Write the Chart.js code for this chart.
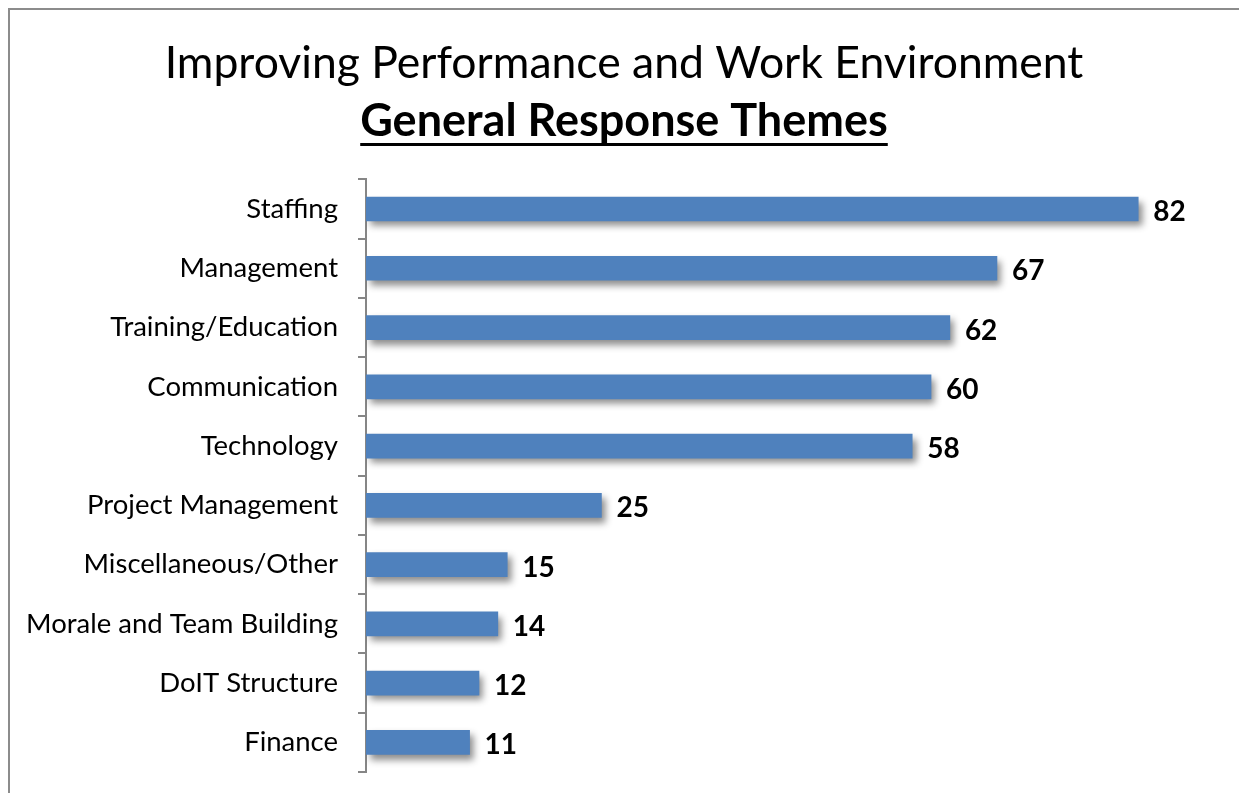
<!DOCTYPE html>
<html>
<head>
<meta charset="utf-8">
<title>General Response Themes</title>
<script src="https://cdn.jsdelivr.net/npm/chart.js@4.4.1/dist/chart.umd.min.js"></script>
<style>
    html, body { margin: 0; padding: 0; background: #fff; overflow: hidden; }
    #wrap { position: relative; width: 1239px; height: 793px; }
    #frame { position: absolute; left: 8px; top: 8px; width: 1300px; height: 900px; border: 2px solid #8c8c8c; box-sizing: border-box; }
    #chart { position: absolute; left: 0; top: 0; }
</style>
</head>
<body>
<div id="wrap">
    <div id="frame"></div>
    <canvas id="chart" width="1239" height="793"></canvas>
</div>
<script>
const titleText = 'Improving Performance and Work Environment';
const subtitleText = 'General Response Themes';
const themes = [
    'Staffing',
    'Management',
    'Training/Education',
    'Communication',
    'Technology',
    'Project Management',
    'Miscellaneous/Other',
    'Morale and Team Building',
    'DoIT Structure',
    'Finance'
];
const responses = [82, 67, 62, 60, 58, 25, 15, 14, 12, 11];

const FONT = 'Lato, "Open Sans", sans-serif';
const SUB_SIZE = 45;
const barBlue = '#4f81bd';
const axisGray = '#868686';

// soft drop shadow under the bars
const barShadow = {
    id: 'barShadow',
    beforeDatasetsDraw(chart) {
        const ctx = chart.ctx;
        ctx.save();
        ctx.shadowColor = 'rgba(0, 0, 0, 0.45)';
        ctx.shadowBlur = 7;
        ctx.shadowOffsetX = 4;
        ctx.shadowOffsetY = 5;
    },
    afterDatasetsDraw(chart) {
        chart.ctx.restore();
    }
};

// bold value next to the end of each bar
const valueLabels = {
    id: 'valueLabels',
    afterDatasetsDraw(chart) {
        const ctx = chart.ctx;
        const meta = chart.getDatasetMeta(0);
        ctx.save();
        ctx.fillStyle = '#000';
        ctx.font = 'bold 28px ' + FONT;
        ctx.textAlign = 'left';
        ctx.textBaseline = 'middle';
        meta.data.forEach((bar, i) => {
            ctx.fillText(String(chart.data.datasets[0].data[i]), bar.x + 15, bar.y + 3);
        });
        ctx.restore();
    }
};

// underline for the second title line
const subtitleUnderline = {
    id: 'subtitleUnderline',
    afterDraw(chart) {
        const sub = chart.boxes.find(b => b.options && b.options.text === subtitleText);
        if (!sub) return;
        const ctx = chart.ctx;
        ctx.save();
        ctx.font = 'bold ' + SUB_SIZE + 'px ' + FONT;
        const w = ctx.measureText(subtitleText).width;
        const mid = sub.left + sub.width / 2;
        const textMid = sub.top + (sub.options.padding.top || 0) + SUB_SIZE * 0.6;
        const y = textMid + 23;
        ctx.strokeStyle = '#000';
        ctx.lineWidth = 3;
        ctx.beginPath();
        ctx.moveTo(mid - w / 2, y);
        ctx.lineTo(mid + w / 2, y);
        ctx.stroke();
        ctx.restore();
    }
};

const ctx = document.getElementById('chart').getContext('2d');
new Chart(ctx, {
    type: 'bar',
    data: {
        labels: themes,
        datasets: [{
            data: responses,
            backgroundColor: barBlue,
            borderWidth: 0,
            barThickness: 24
        }]
    },
    options: {
        indexAxis: 'y',
        responsive: false,
        animation: false,
        devicePixelRatio: 1,
        layout: { padding: { left: 9, right: 0, top: 0, bottom: 21 } },
        plugins: {
            legend: { display: false },
            tooltip: { enabled: false },
            title: {
                display: true,
                text: titleText,
                color: '#000',
                font: { family: FONT, size: 44.5, weight: 'normal' },
                padding: { top: 37, bottom: 4 }
            },
            subtitle: {
                display: true,
                text: subtitleText,
                color: '#000',
                font: { family: FONT, size: SUB_SIZE, weight: 'bold' },
                padding: { top: 0, bottom: 31 }
            }
        },
        scales: {
            x: {
                display: false,
                min: 0,
                max: 92.7
            },
            y: {
                afterFit(scale) {
                    scale.width = 357;
                    scale.paddingTop = 0;
                    scale.paddingBottom = 0;
                },
                grid: {
                    drawOnChartArea: false,
                    drawTicks: true,
                    tickLength: 8,
                    color: axisGray,
                    lineWidth: 2
                },
                border: { display: true, color: axisGray, width: 2 },
                ticks: {
                    color: '#000',
                    padding: 20,
                    font: { family: FONT, size: 27.5 }
                }
            }
        }
    },
    plugins: [barShadow, valueLabels, subtitleUnderline]
});
</script>
</body>
</html>
